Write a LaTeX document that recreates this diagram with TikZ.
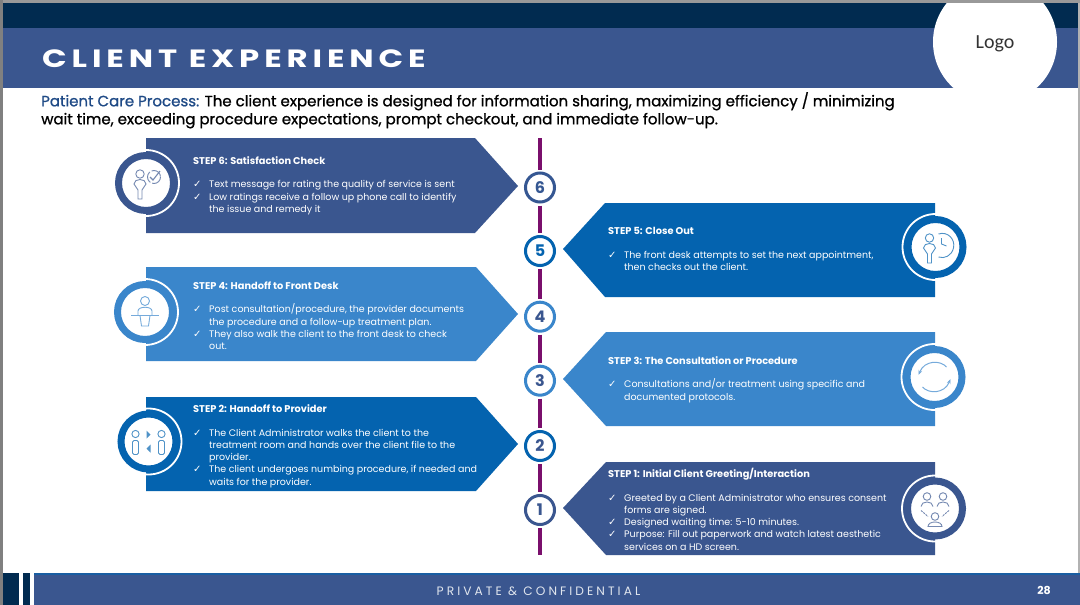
\documentclass[tikz,border=0pt]{standalone}
\usepackage{fontspec}
\usetikzlibrary{arrows.meta}
\setmainfont{Poppins}
\newfontfamily\symf{DejaVu Sans}
\newfontfamily\logof{Carlito}
\newfontfamily\introf[FakeBold=0.9]{Poppins}
\newfontfamily\titlef[LetterSpace=15,BoldFont=Poppins Bold]{Poppins}
\newfontfamily\footf[LetterSpace=25]{Poppins}
\definecolor{navyband}{HTML}{012B50}
\definecolor{slateblue}{HTML}{3A568F}
\definecolor{royal}{HTML}{0463AF}
\definecolor{sky}{HTML}{3A86CB}
\definecolor{intro}{HTML}{1F4A86}
\definecolor{rail}{HTML}{7A0F6C}
\newcommand{\ckm}{\makebox[16pt][l]{\symf\fontsize{10}{10}\selectfont ✓}}
\newcommand{\ind}{\hspace*{16pt}}
\newcommand{\personA}{%
 \draw (-6,-9) circle (4.2);
 \draw (-12,1) .. controls (-12,-5) and (0,-5) .. (0,1) -- (-4,7) -- (-4,16) -- (-8,16) -- (-8,7) -- cycle;}
\tikzset{
 x=1pt,y=-1pt,
 ringnode/.style={circle,draw=#1,line width=7pt,fill=white,minimum size=55pt,inner sep=0pt},
 halo/.style={draw=white,line width=1.8pt},
 numnode/.style={circle,draw=#1,line width=3pt,fill=white,minimum size=29pt,inner sep=0pt,outer sep=3.5pt,text=#1,font=\bfseries\fontsize{16}{16}\selectfont},
 headtxt/.style={anchor=base west,inner sep=0pt,text=white,font=\bfseries\fontsize{9.8}{10}\selectfont},
 bodytxt/.style={anchor=north west,inner sep=0pt,align=left,text=white,font=\fontsize{9.5}{12.25}\selectfont},
 iconline/.style={line width=0.9pt,draw=#1!70!white}
}
\begin{document}
\begin{tikzpicture}
\useasboundingbox (0,0) rectangle (1080,605);
\fill[white] (0,0) rectangle (1080,605);
% header
\fill[navyband] (0,3) rectangle (1080,28);
\fill[slateblue] (0,28) rectangle (1080,88);
\begin{scope}
\clip (0,0) rectangle (1080,88);
\node[circle,fill=white,minimum size=124pt,inner sep=0pt] (logoc) at (995,42) {};
\end{scope}
\node[font=\logof\fontsize{20}{20}\selectfont,text=black!80] (logo) at (995,44) {Logo};
\fill[black!40] (0,0) rectangle (1080,3);
\fill[black!50] (0,0) rectangle (3,605);
\fill[black!30] (1078,3) rectangle (1080,573);
\node[anchor=base west,inner sep=0pt,text=white] (title) at (42,67) {\scalebox{1.295}[1]{\titlef\bfseries\fontsize{25}{25}\selectfont CLIENT EXPERIENCE}};
% intro
\node[anchor=north west,inner sep=0pt,align=left,font=\introf\fontsize{15}{18}\selectfont] (introtxt) at (41,92) {\strut\textcolor{intro}{Patient Care Process:} The client experience is designed for information sharing, maximizing efficiency / minimizing\\\strut wait time, exceeding procedure expectations, prompt checkout, and immediate follow-up.};
% arrows
\fill[slateblue] (146,138) -- (475,138) -- (518,186) -- (475,233) -- (146,233) -- cycle;
\fill[sky] (146,267) -- (476,267) -- (518,314) -- (476,361) -- (146,361) -- cycle;
\fill[royal] (146,397) -- (476,397) -- (518,444) -- (476,491) -- (146,491) -- cycle;
\fill[royal] (935,203) -- (605,203) -- (563,249) -- (605,297) -- (935,297) -- cycle;
\fill[sky] (935,332) -- (606,332) -- (563,379) -- (606,426) -- (935,426) -- cycle;
\fill[slateblue] (935,462) -- (606,462) -- (563,508) -- (606,555) -- (935,555) -- cycle;
% rail
\coordinate (railtop) at (540,138);
\coordinate (railbot) at (540,555);
\node[numnode=slateblue!90!royal] (n6) at (540,187.5) {6};
\node[numnode=royal] (n5) at (540,251) {5};
\node[numnode=sky] (n4) at (540,316.7) {\textcolor{slateblue}{4}};
\node[numnode=sky] (n3) at (540,380.7) {\textcolor{slateblue}{3}};
\node[numnode=royal] (n2) at (540,446) {\textcolor{slateblue}{2}};
\node[numnode=slateblue] (n1) at (540,510) {1};
\draw[rail,line width=4.5pt] (railtop) -- (n6);
\draw[rail,line width=4.5pt] (n6) -- (n5);
\draw[rail,line width=4.5pt] (n5) -- (n4);
\draw[rail,line width=4.5pt] (n4) -- (n3);
\draw[rail,line width=4.5pt] (n3) -- (n2);
\draw[rail,line width=4.5pt] (n2) -- (n1);
\draw[rail,line width=4.5pt] (n1) -- (railbot);
% icon rings
\draw[halo] (146,183) circle (33);
\node[ringnode=slateblue] (ic6) at (146,183) {};
\draw[halo] (145,312) circle (33);
\node[ringnode=sky] (ic4) at (145,312) {};
\draw[halo] (148.5,441.5) circle (33);
\node[ringnode=royal] (ic2) at (148.5,441.5) {};
\draw[halo] (935.5,247) circle (33);
\node[ringnode=royal] (ic5) at (935.5,247) {};
\draw[halo] (934.5,377) circle (33);
\node[ringnode=sky] (ic3) at (934.5,377) {};
\draw[halo] (935,508.5) circle (33);
\node[ringnode=slateblue] (ic1) at (935,508.5) {};
% icon 6
\begin{scope}[shift={(146,183)},iconline=slateblue]
\personA
\draw[dash pattern=on 12pt off 2pt] (8,-6) circle (6.5);
\draw[line width=1.1pt] (4,-6) -- (7,-3) -- (14,-12);
\end{scope}
% icon 5
\begin{scope}[shift={(935.5,247)},iconline=royal]
\personA
\draw (3,-13) .. controls (12,-16) and (20,-8) .. (18,1) .. controls (16,9) and (9,12) .. (3,10);
\draw (6,-9) -- (6,-3) -- (11,-1);
\end{scope}
% icon 4
\begin{scope}[shift={(145,312)},iconline=sky]
\draw (0,-11) circle (4.5);
\draw (-7,3) -- (-7,-1) .. controls (-7,-6) and (7,-6) .. (7,-1) -- (7,3);
\draw (-14,3.5) -- (14,3.5);
\draw (-5,3.5) -- (-3.5,14) -- (3.5,14) -- (5,3.5);
\end{scope}
% icon 2
\begin{scope}[shift={(148.5,441.5)},iconline=royal]
\draw (-13,-7.5) circle (3.6);
\draw (13,-7.5) circle (3.6);
\draw[rounded corners=1.5pt] (-16,-1) rectangle (-10,13);
\draw[rounded corners=1.5pt] (10,-1) rectangle (16,13);
\fill[royal!70!white] (-2,-11) -- (2,-7) -- (-2,-3) -- cycle;
\fill[royal!70!white] (2,3) -- (-2,7) -- (2,11) -- cycle;
\end{scope}
% icon 3
\begin{scope}[shift={(934.5,377)},iconline=sky]
\draw[-{Stealth[length=5pt]},line width=1pt] (12,-10) .. controls (6,-17) and (-10,-17) .. (-16,-2);
\draw[-{Stealth[length=5pt]},line width=1pt] (-12,10) .. controls (-6,17) and (10,17) .. (16,2);
\end{scope}
% icon 1
\begin{scope}[shift={(935,508.5)},iconline=slateblue]
\draw (-8,-12) circle (3.8); \draw (8,-12) circle (3.8); \draw (0,8) circle (3.8);
\draw (-14,-2) .. controls (-14,-8) and (-2,-8) .. (-2,-2);
\draw (2,-2) .. controls (2,-8) and (14,-8) .. (14,-2);
\draw (-7,18) .. controls (-7,12) and (7,12) .. (7,18) -- cycle;
\draw[dash pattern=on 2pt off 1pt] (-14,2) -- (-7,8);
\draw[dash pattern=on 2pt off 1pt] (14,2) -- (7,8);
\end{scope}
% step text
\node[headtxt] (h6) at (193,164) {STEP 6: Satisfaction Check};
\node[bodytxt] (b6) at (193,179.2) {\strut\ckm Text message for rating the quality of service is sent\\\strut\ckm Low ratings receive a follow up phone call to identify\\\strut\ind the issue and remedy it};
\node[headtxt] (h5) at (608,234.5) {STEP 5: Close Out};
\node[bodytxt] (b5) at (608,249.7) {\strut\ckm The front desk attempts to set the next appointment,\\\strut\ind then checks out the client.};
\node[headtxt] (h4) at (193,289) {STEP 4: Handoff to Front Desk};
\node[bodytxt] (b4) at (193,303.7) {\strut\ckm Post consultation/procedure, the provider documents\\\strut\ind the procedure and a follow-up treatment plan.\\\strut\ckm They also walk the client to the front desk to check\\\strut\ind out.};
\node[headtxt] (h3) at (608,364.5) {STEP 3: The Consultation or Procedure};
\node[bodytxt] (b3) at (608,378.7) {\strut\ckm Consultations and/or treatment using specific and\\\strut\ind documented protocols.};
\node[headtxt] (h2) at (193,412.5) {STEP 2: Handoff to Provider};
\node[bodytxt] (b2) at (193,427.4) {\strut\ckm The Client Administrator walks the client to the\\\strut\ind treatment room and hands over the client file to the\\\strut\ind provider.\\\strut\ckm The client undergoes numbing procedure, if needed and\\\strut\ind waits for the provider.};
\node[headtxt] (h1) at (608,477.5) {STEP 1: Initial Client Greeting/Interaction};
\node[bodytxt] (b1) at (608,492.4) {\strut\ckm Greeted by a Client Administrator who ensures consent\\\strut\ind forms are signed.\\\strut\ckm Designed waiting time: 5-10 minutes.\\\strut\ckm Purpose: Fill out paperwork and watch latest aesthetic\\\strut\ind services on a HD screen.};
% footer
\fill[slateblue] (34,573) rectangle (1080,605);
\fill[royal!60!slateblue] (34,573) rectangle (1080,575);
\fill[navyband] (3,573) rectangle (19,605);
\fill[navyband] (23,573) rectangle (30,605);
\node[inner sep=0pt,text=white!85!slateblue,font=\footf\fontsize{12.2}{12}\selectfont] (foot) at (538.5,591) {PRIVATE \& CONFIDENTIAL};
\node[inner sep=0pt,text=white,font=\bfseries\fontsize{11}{11}\selectfont] (pageno) at (1044,590) {28};
\end{tikzpicture}
\end{document}
